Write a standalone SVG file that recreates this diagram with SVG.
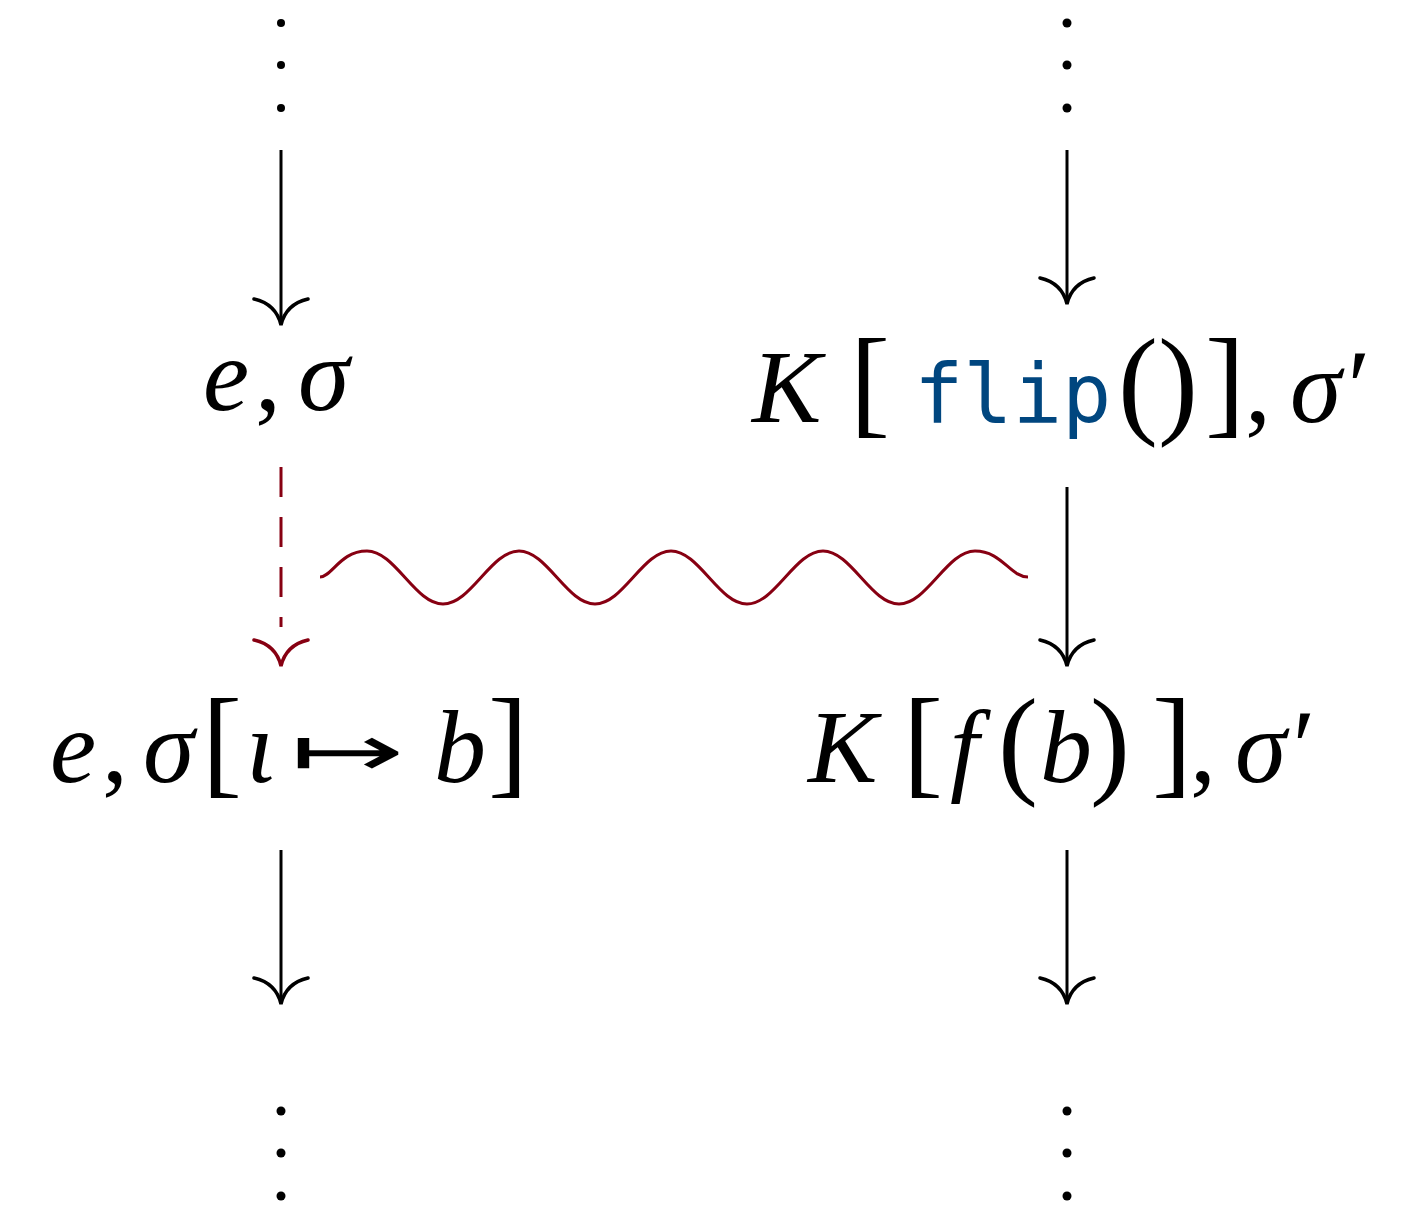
<svg xmlns="http://www.w3.org/2000/svg" width="1425" height="1208" viewBox="0 0 1425 1208">
<defs>
<style>
.ln{stroke:#000;stroke-width:3;fill:none}
.red{stroke:#870012;stroke-width:3;fill:none}
.hd{stroke-width:3.5;fill:none;stroke-linecap:round}
.m{font-family:"Liberation Serif","DejaVu Serif",serif;font-size:104px;fill:#000}
.i{font-style:italic}
.b{font-size:120px}
.tt{font-family:"DejaVu Sans Mono",monospace;font-size:82px;fill:#00467f}
.ar{font-family:"DejaVu Sans",sans-serif;font-size:72px;fill:#000}
.dot{fill:#000}
</style>
<path id="head" d="M-27,-25 Q-5,-20 0,1 Q5,-20 27,-25"/>
</defs>
<g id="connectors">
<line class="ln" x1="281" y1="150" x2="281" y2="323"/>
<use href="#head" class="hd" stroke="#000" transform="translate(281,324)"/>
<line class="ln" x1="1067" y1="150" x2="1067" y2="302"/>
<use href="#head" class="hd" stroke="#000" transform="translate(1067,303)"/>
<line class="red" x1="281" y1="467" x2="281" y2="627" stroke-dasharray="30 20"/>
<use href="#head" class="hd" stroke="#870012" transform="translate(281,665)"/>
<line class="ln" x1="1067" y1="487" x2="1067" y2="664"/>
<use href="#head" class="hd" stroke="#000" transform="translate(1067,665)"/>
<line class="ln" x1="281" y1="850" x2="281" y2="1002"/>
<use href="#head" class="hd" stroke="#000" transform="translate(281,1003)"/>
<line class="ln" x1="1067" y1="850" x2="1067" y2="1002"/>
<use href="#head" class="hd" stroke="#000" transform="translate(1067,1003)"/>
<path class="red" d="M320,577 C332,577 340,551 367,551 C395,551 415,604 443,604 C471,604 491,551 519,551 C547,551 567,604 595,604 C623,604 643,551 671,551 C699,551 719,604 747,604 C775,604 795,551 823,551 C851,551 871,604 899,604 C927,604 947,551 975,551 C1002,551 1010,577 1028,577"/>
</g>
<g id="dots-top-left">
<circle class="dot" cx="281" cy="23" r="4"/><circle class="dot" cx="281" cy="65" r="4"/><circle class="dot" cx="281" cy="108" r="4"/>
</g>
<g id="dots-top-right">
<circle class="dot" cx="1067" cy="23" r="4.5"/><circle class="dot" cx="1067" cy="65" r="4.5"/><circle class="dot" cx="1067" cy="108" r="4.5"/>
</g>
<g id="dots-bottom-left">
<circle class="dot" cx="281" cy="1111" r="4.5"/><circle class="dot" cx="281" cy="1153" r="4.5"/><circle class="dot" cx="281" cy="1196" r="4.5"/>
</g>
<g id="dots-bottom-right">
<circle class="dot" cx="1067" cy="1111" r="4.5"/><circle class="dot" cx="1067" cy="1153" r="4.5"/><circle class="dot" cx="1067" cy="1196" r="4.5"/>
</g>
<g id="node-e-sigma">
<text class="m" y="410"><tspan class="i" x="203">e</tspan><tspan x="255">,</tspan><tspan class="i" x="298">σ</tspan></text>
</g>
<g id="node-K-flip">
<text class="m" y="422"><tspan class="i" x="752">K</tspan><tspan class="b" x="850">[</tspan></text>
<text class="tt" x="914" y="422">flip</text>
<text class="m" y="422"><tspan class="b" x="1118">()</tspan><tspan class="b" x="1205">]</tspan><tspan x="1245">,</tspan><tspan class="i" x="1290">σ′</tspan></text>
</g>
<g id="node-e-sigma-update">
<text class="m" y="782"><tspan class="i" x="50">e</tspan><tspan x="102">,</tspan><tspan class="i" x="143">σ</tspan><tspan class="b" x="202">[</tspan><tspan class="i" x="246">ι</tspan></text>
<text class="ar" x="290" y="776" textLength="115" lengthAdjust="spacingAndGlyphs">↦</text>
<text class="m" y="782"><tspan class="i" x="434">b</tspan><tspan class="b" x="488">]</tspan></text>
</g>
<g id="node-K-f-b">
<text class="m" y="782"><tspan class="i" x="808">K</tspan><tspan class="b" x="903">[</tspan><tspan class="i" x="950">f</tspan><tspan class="b" x="998">(</tspan><tspan class="i" x="1040">b</tspan><tspan class="b" x="1090">)</tspan><tspan class="b" x="1152">]</tspan><tspan x="1190">,</tspan><tspan class="i" x="1235">σ′</tspan></text>
</g>
</svg>
